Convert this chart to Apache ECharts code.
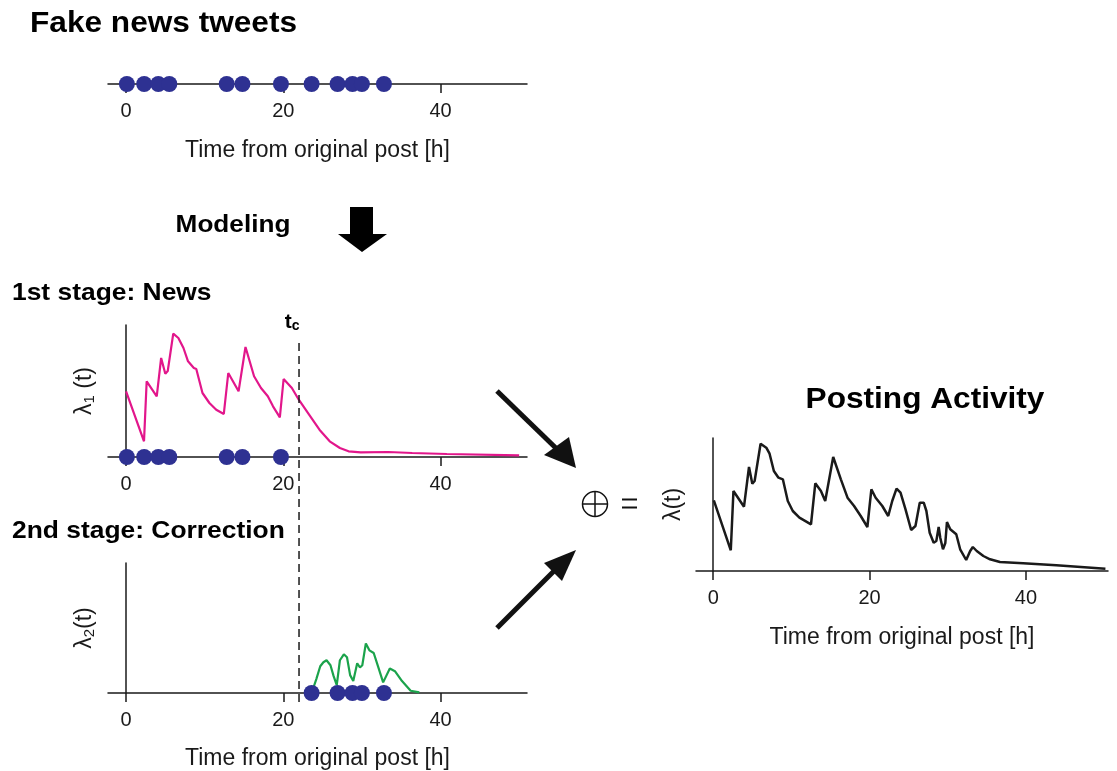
<!DOCTYPE html>
<html><head><meta charset="utf-8">
<script src="https://cdn.jsdelivr.net/npm/echarts@6/dist/echarts.min.js"></script>
<style>html,body{margin:0;padding:0;background:#fff}#c{width:1117px;height:771px}</style>
</head><body><div id="c"></div>
<script>
// ---------- data ----------
const tweetTimes = [0.1, 2.3, 4.1, 5.5, 12.8, 14.8, 19.7, 23.6, 26.9, 28.8, 30.0, 32.8];
const tc = 22;
const xTicks = [0, 20, 40];
const lambda1 = [[0,65.7],[2.28,15.7],[2.62,75.7],[3.9,60.7],[4.46,99],[4.99,83.3],[5.3,86],[6.0,123.3],[6.65,119],[7.3,109],[7.88,95.7],[8.62,89],[8.93,88],[9.72,64],[10.6,54],[11.47,47.3],[12.43,43],[13.0,84],[14.31,65.7],[15.19,110],[16.28,80.7],[17.16,69],[18.03,60.7],[18.69,50.7],[19.56,39.7],[20.04,78],[21.09,69],[21.97,57.3],[23.28,42.3],[24.6,27.3],[25.9,15.7],[27.2,9],[28.3,5.7],[29.85,4.7],[33.35,5],[36.4,4],[40.8,3],[50.0,1.7]];
const lambda2 = [[23.6,0],[24.2,14],[24.7,27],[25.1,31],[25.5,33],[26.0,28],[26.4,17],[26.8,8],[27.2,33],[27.7,39],[28.1,36],[28.5,18],[28.9,12],[29.4,30],[29.75,25.7],[30.05,28],[30.5,50],[30.95,43],[31.5,40.3],[32.03,27.3],[32.7,10.7],[33.55,24.7],[34.2,22],[35.1,12],[36.2,2.3],[37.3,0.7]];
const lambdaTotal = [[0.08,70.7],[2.25,20.7],[2.59,80],[3.94,64.3],[4.58,104],[5.0,87.3],[5.3,90],[6.06,127.3],[6.79,123.3],[7.21,117.3],[7.76,100],[8.35,93.3],[8.91,91.7],[9.54,70],[10.18,60],[11.03,53.3],[12.51,46.7],[13.06,87.7],[13.78,80],[14.33,70],[15.35,114],[16.33,91.7],[17.18,73.3],[18.02,65],[18.87,55],[19.72,44],[20.23,81.7],[20.78,73.3],[21.63,65],[22.39,55],[22.9,70],[23.45,82.3],[23.96,78.3],[24.6,61.7],[25.32,41],[25.87,45],[26.42,68.3],[26.93,68.3],[27.27,60],[27.69,38.3],[28.2,28.3],[28.54,30],[28.84,44],[29.05,33],[29.39,21.7],[29.69,28],[29.9,49],[30.32,41.7],[31.09,36.7],[31.59,21.7],[32.36,11],[32.87,20],[33.21,24],[33.71,20],[34.56,15],[35.41,11.7],[36.68,9],[39.65,7.7],[43.89,5.7],[50.17,2.3]];
const newsTimes = tweetTimes.filter(t => t < tc);
const corrTimes = tweetTimes.filter(t => t >= tc);

// ---------- styles ----------
const FONT = "'Liberation Sans', Arial, Helvetica, sans-serif";
const INK = '#1a1a1a';
const PINK = '#e2168b';
const GREEN = '#1ba34b';
const BLUE = '#2e3192';

function xAx(grid, min, max, name, nameGap) {
  return {
    type: 'value', gridIndex: grid, min: min, max: max,
    axisLine: { show: true, onZero: true, lineStyle: { color: INK, width: 1.5 } },
    axisTick: { show: true, customValues: xTicks, length: 9, lineStyle: { color: INK, width: 1.5 } },
    axisLabel: { show: true, customValues: xTicks, fontSize: 20, color: INK, margin: 17, fontFamily: FONT },
    splitLine: { show: false },
    name: name || '', nameLocation: 'middle', nameGap: nameGap || 50,
    nameTextStyle: { fontSize: 23, color: INK, fontFamily: FONT }
  };
}
function yAx(grid, max, name) {
  return {
    type: 'value', gridIndex: grid, min: 0, max: max, show: !!name,
    axisLine: { show: true, onZero: true, lineStyle: { color: INK, width: 1.5 } },
    axisTick: { show: false }, axisLabel: { show: false }, splitLine: { show: false },
    name: name || '', nameLocation: 'middle', nameGap: 11,
    nameTextStyle: { fontSize: 23, color: INK, fontFamily: FONT,
      rich: { sub: { fontSize: 15, color: INK, fontFamily: FONT, verticalAlign: 'bottom', padding: [10, 0, 0, 0] } } }
  };
}
const dot = (data, xi) => ({
  type: 'scatter', xAxisIndex: xi, yAxisIndex: xi, data: data.map(t => [t, 0]),
  symbolSize: 16, itemStyle: { color: BLUE, opacity: 1 }, clip: false, z: 5, silent: true
});
const curve = (data, xi, color, w) => ({
  type: 'line', xAxisIndex: xi, yAxisIndex: xi, data: data, showSymbol: false, symbol: 'none',
  lineStyle: { color: color, width: w }, clip: false, z: 3, silent: true, animation: false
});

const chart = echarts.init(document.getElementById('c'), null, { renderer: 'canvas' });
chart.setOption({
  animation: false,
  backgroundColor: '#fff',
  textStyle: { fontFamily: FONT },
  grid: [
    { left: 108, top: 60, width: 419, height: 24 },
    { left: 108, top: 325, width: 419, height: 132 },
    { left: 108, top: 563, width: 419, height: 131 },
    { left: 696, top: 438, width: 412, height: 133 }
  ],
  xAxis: [
    xAx(0, -2.3, 51, 'Time from original post [h]', 55),
    xAx(1, -2.3, 51),
    xAx(2, -2.3, 51, 'Time from original post [h]', 54),
    xAx(3, -2.2, 50.5, 'Time from original post [h]', 55)
  ],
  yAxis: [
    yAx(0, 1, ''),
    yAx(1, 132, 'λ{sub|1} (t)'),
    yAx(2, 131, 'λ{sub|2}(t)'),
    yAx(3, 133, 'λ(t)')
  ],
  series: [
    dot(tweetTimes, 0),
    curve(lambda1, 1, PINK, 2.2),
    dot(newsTimes, 1),
    curve(lambda2, 2, GREEN, 2.2),
    dot(corrTimes, 2),
    curve(lambdaTotal, 3, INK, 2.5)
  ]
});

// ---------- annotations ----------
const xc = chart.convertToPixel({ xAxisIndex: 1 }, tc);
const yTop = chart.convertToPixel({ yAxisIndex: 1 }, 114);
const yBot = chart.convertToPixel({ yAxisIndex: 2 }, -14);
const tstyle = (text, size, align) => ({ text: text, fontSize: size, fontWeight: 'bold', fontFamily: FONT, fill: '#000', align: align, verticalAlign: 'middle' });
chart.setOption({
  graphic: [
    { type: 'text', x: 30, y: 24, style: tstyle('Fake news tweets', 29, 'left'), scaleX: 1.09 },
    { type: 'text', x: 233, y: 225, style: tstyle('Modeling', 24, 'center'), scaleX: 1.09 },
    { type: 'text', x: 12, y: 293, style: tstyle('1st stage: News', 24, 'left'), scaleX: 1.1 },
    { type: 'text', x: 12, y: 531, style: tstyle('2nd stage: Correction', 24, 'left'), scaleX: 1.1 },
    { type: 'text', x: 925, y: 400, style: tstyle('Posting Activity', 29, 'center'), scaleX: 1.09 },
    { type: 'text', x: xc - 7, y: 322, style: { text: 't{c|c}', fontSize: 21, fontWeight: 'bold', fontFamily: FONT, fill: '#000', align: 'center', verticalAlign: 'middle',
        rich: { c: { fontSize: 14, fontWeight: 'bold', fontFamily: FONT, fill: '#000', padding: [9, 0, 0, 0] } } } },
    { type: 'line', shape: { x1: xc, y1: yTop, x2: xc, y2: yBot }, style: { stroke: INK, lineWidth: 1.5, lineDash: [8, 5] }, z: 10 },
    // modeling arrow
    { type: 'polygon', shape: { points: [[350,207],[373,207],[373,234],[387,234],[362,252],[338,234],[350,234]] }, style: { fill: '#000' } },
    // merge arrows
    { type: 'line', shape: { x1: 497, y1: 391, x2: 562, y2: 454 }, style: { stroke: '#111', lineWidth: 5 } },
    { type: 'polygon', shape: { points: [[576,468],[544,455],[569,437]] }, style: { fill: '#111' } },
    { type: 'line', shape: { x1: 497, y1: 628, x2: 560, y2: 565 }, style: { stroke: '#111', lineWidth: 5 } },
    { type: 'polygon', shape: { points: [[576,550],[544,563],[562,581]] }, style: { fill: '#111' } },
    // oplus and equals
    { type: 'circle', shape: { cx: 595, cy: 504, r: 12.5 }, style: { fill: 'none', stroke: '#111', lineWidth: 1.5 } },
    { type: 'line', shape: { x1: 595, y1: 491.5, x2: 595, y2: 516.5 }, style: { stroke: '#111', lineWidth: 1.5 } },
    { type: 'line', shape: { x1: 582.5, y1: 504, x2: 607.5, y2: 504 }, style: { stroke: '#111', lineWidth: 1.5 } },
    { type: 'line', shape: { x1: 622, y1: 499.5, x2: 637, y2: 499.5 }, style: { stroke: '#111', lineWidth: 2 } },
    { type: 'line', shape: { x1: 622, y1: 507.5, x2: 637, y2: 507.5 }, style: { stroke: '#111', lineWidth: 2 } }
  ]
});
</script></body></html>
